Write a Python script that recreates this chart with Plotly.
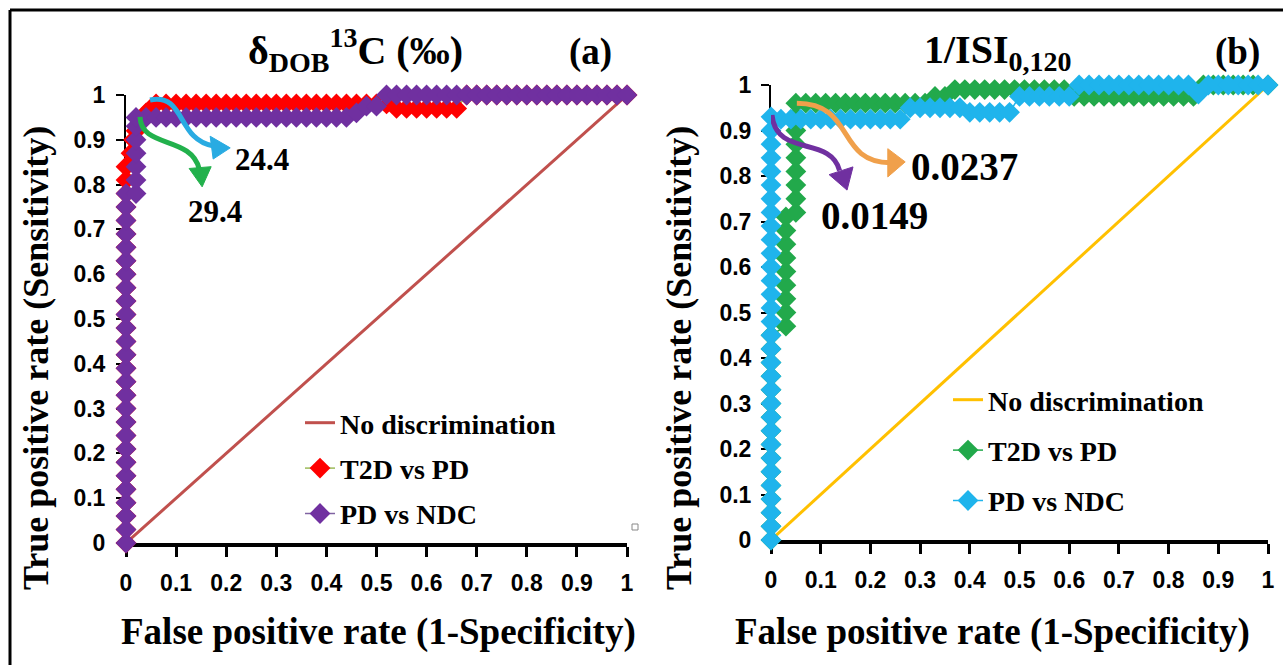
import plotly.graph_objects as go

# ---------------- data ----------------
tick_vals = [0, 0.1, 0.2, 0.3, 0.4, 0.5, 0.6, 0.7, 0.8, 0.9, 1]
tick_text = ["0", "0.1", "0.2", "0.3", "0.4", "0.5", "0.6", "0.7", "0.8", "0.9", "1"]

diag_x = [0, 1]
diag_y = [0, 1]

# Panel (a) delta_DOB 13C : T2D vs PD
a_t2d_x = [0]*29 + [0.01, 0.015, 0.02, 0.03, 0.04, 0.05, 0.06,
           0.08, 0.10, 0.12, 0.14, 0.16, 0.18, 0.20, 0.22, 0.24, 0.26, 0.28, 0.30,
           0.32, 0.34, 0.36, 0.38, 0.40, 0.42, 0.44, 0.46, 0.48, 0.50, 0.52,
           0.54, 0.56, 0.58, 0.60, 0.62, 0.64, 0.66,
           0.68, 0.70, 0.72, 0.74, 0.76, 0.78, 0.80, 0.82, 0.84, 0.86, 0.88, 0.90,
           0.92, 0.94, 0.96, 0.98, 1.0]
a_t2d_y = [0, 0.03, 0.06, 0.09, 0.12, 0.15, 0.18, 0.21, 0.24, 0.27, 0.30, 0.33, 0.36,
           0.39, 0.42, 0.45, 0.48, 0.51, 0.54, 0.57, 0.60, 0.63, 0.66, 0.69, 0.72,
           0.75, 0.78, 0.81, 0.84,
           0.87, 0.90, 0.92, 0.94, 0.96, 0.97, 0.98,
           0.98, 0.98, 0.98, 0.98, 0.98, 0.98, 0.98, 0.98, 0.98, 0.98, 0.98, 0.98,
           0.98, 0.98, 0.98, 0.98, 0.98, 0.98, 0.98, 0.98, 0.98, 0.98, 0.98,
           0.97, 0.97, 0.97, 0.97, 0.97, 0.97, 0.97,
           1, 1, 1, 1, 1, 1, 1, 1, 1, 1, 1, 1, 1, 1, 1, 1, 1]

# Panel (a) : PD vs NDC
a_pd_x = [0]*27 + [0.02]*7 + [0.04, 0.06, 0.08, 0.10, 0.12, 0.14, 0.16, 0.18, 0.20,
          0.22, 0.24, 0.26, 0.28, 0.30, 0.32, 0.34, 0.36, 0.38, 0.40, 0.42, 0.44,
          0.46, 0.48, 0.50,
          0.52, 0.54, 0.56, 0.58, 0.60, 0.62, 0.64, 0.66, 0.68, 0.70, 0.72, 0.74,
          0.76, 0.78, 0.80, 0.82, 0.84, 0.86, 0.88, 0.90, 0.92, 0.94, 0.96, 0.98, 1.0]
a_pd_y = [0, 0.03, 0.06, 0.09, 0.12, 0.15, 0.18, 0.21, 0.24, 0.27, 0.30, 0.33, 0.36,
          0.39, 0.42, 0.45, 0.48, 0.51, 0.54, 0.57, 0.60, 0.63, 0.66, 0.69, 0.72,
          0.75, 0.78,
          0.78, 0.81, 0.84, 0.87, 0.90, 0.93, 0.95,
          0.95, 0.95, 0.95, 0.95, 0.95, 0.95, 0.95, 0.95, 0.95, 0.95, 0.95, 0.95,
          0.95, 0.95, 0.95, 0.95, 0.95, 0.95, 0.95, 0.95, 0.95,
          0.96, 0.975, 0.975,
          1, 1, 1, 1, 1, 1, 1, 1, 1, 1, 1, 1, 1, 1, 1, 1, 1, 1, 1, 1, 1, 1, 1, 1, 1]

# Panel (b) 1/ISI0,120 : T2D vs PD
b_t2d_x = [0]*16 + [0.03]*9 + [0.05]*9 + [0.07, 0.09, 0.11, 0.13, 0.15, 0.17, 0.19,
           0.21, 0.23, 0.25, 0.27, 0.29, 0.31,
           0.33, 0.35,
           0.37, 0.39, 0.41, 0.43, 0.45, 0.47, 0.49, 0.51, 0.53, 0.55, 0.57, 0.59,
           0.61, 0.63, 0.65, 0.67, 0.69, 0.71, 0.73, 0.75, 0.77, 0.79, 0.81, 0.83, 0.85,
           0.87, 0.89, 0.91, 0.93, 0.95, 0.97, 1.0]
b_t2d_y = [0, 0.03, 0.06, 0.09, 0.12, 0.15, 0.18, 0.21, 0.24, 0.27, 0.30, 0.33, 0.36,
           0.39, 0.42, 0.45,
           0.47, 0.50, 0.53, 0.56, 0.59, 0.62, 0.65, 0.68, 0.71,
           0.72, 0.75, 0.78, 0.81, 0.84, 0.87, 0.90, 0.93, 0.96,
           0.96, 0.96, 0.96, 0.96, 0.96, 0.96, 0.96, 0.96, 0.96, 0.96, 0.96, 0.96, 0.96,
           0.975, 0.975,
           0.99, 0.99, 0.99, 0.99, 0.99, 0.99, 0.99, 0.99, 0.99, 0.99, 0.99, 0.99,
           0.975, 0.975, 0.975, 0.975, 0.975, 0.975, 0.975, 0.975, 0.975, 0.975,
           0.975, 0.975, 0.975,
           1, 1, 1, 1, 1, 1, 1]

# Panel (b) : PD vs NDC
b_pd_x = [0]*32 + [0.02, 0.04, 0.06, 0.08, 0.10, 0.12, 0.14, 0.16, 0.18, 0.20,
          0.22, 0.24, 0.26,
          0.28, 0.30, 0.32, 0.34, 0.36, 0.38, 0.40, 0.42, 0.44, 0.46, 0.48,
          0.50, 0.52, 0.54, 0.56, 0.58, 0.60,
          0.62, 0.64, 0.66, 0.68, 0.70, 0.72, 0.74, 0.76, 0.78, 0.80, 0.82, 0.84,
          0.86,
          0.88, 0.90, 0.92, 0.94, 0.96, 0.98, 1.0]
b_pd_y = [0, 0.03, 0.06, 0.09, 0.12, 0.15, 0.18, 0.21, 0.24, 0.27, 0.30, 0.33, 0.36,
          0.39, 0.42, 0.45, 0.48, 0.51, 0.54, 0.57, 0.60, 0.63, 0.66, 0.69, 0.72,
          0.75, 0.78, 0.81, 0.84, 0.87, 0.90, 0.93,
          0.925, 0.925, 0.925, 0.925, 0.925, 0.925, 0.925, 0.925, 0.925, 0.925,
          0.925, 0.925, 0.925,
          0.95, 0.95, 0.95, 0.95, 0.95, 0.95, 0.94, 0.94, 0.94, 0.94, 0.94,
          0.975, 0.975, 0.975, 0.975, 0.975, 0.975,
          1, 1, 1, 1, 1, 1, 1, 1, 1, 1, 1, 1,
          0.98,
          1, 1, 1, 1, 1, 1, 1]

# ---------------- styling ----------------
W, H = 1283, 665
SERIF = "Times New Roman, Liberation Serif, serif"
SANS = "Liberation Sans Narrow, Arial Narrow, Arial, Liberation Sans, sans-serif"
MS = 16

fig = go.Figure()

def add_panel(xa, ya, leg, diag_color, c1, l1, c2, l2, x1, y1, x2, y2):
    fig.add_trace(go.Scatter(x=diag_x, y=diag_y, mode="lines", name="No discrimination",
                             line=dict(color=diag_color, width=3), xaxis=xa, yaxis=ya,
                             legend=leg, legendgroup=leg + "a"))
    fig.add_trace(go.Scatter(x=x1, y=y1, mode="lines+markers", name="T2D vs PD",
                             line=dict(color=l1, width=1.5),
                             marker=dict(symbol="diamond", size=MS, color=c1),
                             cliponaxis=False, xaxis=xa, yaxis=ya,
                             legend=leg, legendgroup=leg + "b"))
    fig.add_trace(go.Scatter(x=x2, y=y2, mode="lines+markers", name="PD vs NDC",
                             line=dict(color=l2, width=1.5),
                             marker=dict(symbol="diamond", size=MS, color=c2),
                             cliponaxis=False, xaxis=xa, yaxis=ya,
                             legend=leg, legendgroup=leg + "c"))

add_panel("x", "y", "legend", "#C0504D", "#FF0000", "#9BBB59", "#7030A0", "#8064A2",
          a_t2d_x, a_t2d_y, a_pd_x, a_pd_y)
add_panel("x2", "y2", "legend2", "#FFC000", "#22A94B", "#22A94B", "#1FB4EC", "#1FB4EC",
          b_t2d_x, b_t2d_y, b_pd_x, b_pd_y)

tickfont = dict(family=SANS, size=23, color="black", weight="bold")

def xax(domain, anchor):
    return dict(domain=domain, anchor=anchor, range=[0, 1], tickvals=tick_vals,
                ticktext=tick_text, showline=True, linewidth=4, linecolor="black",
                ticks="outside", ticklen=10, tickwidth=3, tickcolor="black",
                tickfont=tickfont, ticklabelstandoff=6, showgrid=False,
                zeroline=False, layer="below traces", fixedrange=True, automargin=False)

def yax(domain, anchor, standoff):
    return dict(domain=domain, anchor=anchor, range=[0, 1], tickvals=tick_vals,
                ticktext=tick_text, showline=True, linewidth=2, linecolor="black",
                ticks="outside", ticklen=8, tickwidth=2, tickcolor="black",
                tickfont=tickfont, ticklabelstandoff=standoff, showgrid=False,
                zeroline=False, layer="below traces", fixedrange=True, automargin=False)

legfont = dict(family=SERIF, size=28, color="black", weight="bold")

fig.update_layout(
    width=W, height=H, margin=dict(l=0, r=0, t=0, b=0, pad=0, autoexpand=False),
    paper_bgcolor="white", plot_bgcolor="white", showlegend=True,
    xaxis=xax([126 / W, 627 / W], "y"),
    yaxis=yax([1 - 543 / H, 1 - 95 / H], "x", 6),
    xaxis2=xax([771 / W, 1268 / W], "y2"),
    yaxis2=yax([1 - 540 / H, 1 - 85 / H], "x2", 5),
    legend=dict(x=300 / W, y=1 - 398 / H, xanchor="left", yanchor="top",
                bgcolor="rgba(0,0,0,0)", font=legfont, tracegroupgap=6,
                traceorder="grouped"),
    legend2=dict(x=948 / W, y=1 - 375 / H, xanchor="left", yanchor="top",
                 bgcolor="rgba(0,0,0,0)", font=legfont, tracegroupgap=11,
                 traceorder="grouped"),
)

titlefont = dict(family=SERIF, size=37, color="black", weight="bold")
ytitlefont = dict(family=SERIF, size=36, color="black", weight="bold")
annos = [
    dict(text="True positive rate (Sensitivity)", x=36 / W, y=1 - 358 / H, textangle=-90,
         font=ytitlefont),
    dict(text="True positive rate (Sensitivity)", x=679 / W, y=1 - 358 / H, textangle=-90,
         font=ytitlefont),
    dict(text="False positive rate (1-Specificity)", x=378 / W, y=1 - 632 / H, font=titlefont),
    dict(text="False positive rate (1-Specificity)", x=992 / W, y=1 - 632 / H, font=titlefont),
    dict(text="δ<sub>DOB</sub><sup>13</sup>C (‰)", x=355 / W, y=1 - 50 / H,
         font=dict(family=SERIF, size=40, color="black", weight="bold")),
    dict(text="(a)", x=590 / W, y=1 - 52 / H, font=titlefont),
    dict(text="1/ISI<sub>0,120</sub>", x=998 / W, y=1 - 52 / H,
         font=dict(family=SERIF, size=40, color="black", weight="bold")),
    dict(text="(b)", x=1237 / W, y=1 - 52 / H, font=titlefont),
]
for a in annos:
    fig.add_annotation(xref="paper", yref="paper", showarrow=False, xanchor="center",
                       yanchor="middle", **a)

for txt, x, y, xr, yr, fs in [("24.4", 0.271, 0.855, "x", "y", 31),
                               ("29.4", 0.178, 0.739, "x", "y", 31),
                               ("0.0237", 0.39, 0.82, "x2", "y2", 39),
                               ("0.0149", 0.209, 0.714, "x2", "y2", 39)]:
    fig.add_annotation(text=txt, x=x, y=y, xref=xr, yref=yr, showarrow=False,
                       font=dict(family=SERIF, size=fs, color="black", weight="bold"),
                       xanchor="center", yanchor="middle")

# curved arrows (annotation decorations)
arrows = [
    ("x", "y", "#29ABE2", "M 0.048,0.989 C 0.12,1.005 0.10,0.90 0.175,0.886",
     "M 0.208,0.882 L 0.168,0.908 L 0.174,0.857 Z"),
    ("x", "y", "#22B14C", "M 0.028,0.951 C 0.03,0.88 0.13,0.91 0.146,0.835",
     "M 0.152,0.795 L 0.126,0.836 L 0.170,0.840 Z"),
    ("x2", "y2", "#F0A04B", "M 0.052,0.960 C 0.17,0.96 0.13,0.83 0.24,0.829",
     "M 0.27,0.831 L 0.235,0.860 L 0.235,0.798 Z"),
    ("x2", "y2", "#7030A0", "M 0.002,0.934 C 0.01,0.84 0.12,0.89 0.138,0.812",
     "M 0.153,0.769 L 0.117,0.803 L 0.165,0.820 Z"),
]
for xr, yr, col, body, head in arrows:
    fig.add_shape(type="path", path=body, xref=xr, yref=yr,
                  line=dict(color=col, width=5), fillcolor="rgba(0,0,0,0)")
    fig.add_shape(type="path", path=head, xref=xr, yref=yr,
                  line=dict(color=col, width=1), fillcolor=col)

# outer frame (top and left edges)
fig.add_shape(type="line", xref="paper", yref="paper", x0=10 / W, x1=1, y0=1 - 10 / H,
              y1=1 - 10 / H, line=dict(color="black", width=3))
fig.add_shape(type="line", xref="paper", yref="paper", x0=10 / W, x1=10 / W, y0=0,
              y1=1 - 10 / H, line=dict(color="black", width=3))
# small leftover handle square seen in panel (a)
fig.add_shape(type="rect", xref="paper", yref="paper", x0=632 / W, x1=638 / W,
              y0=1 - 530 / H, y1=1 - 524 / H, line=dict(color="#888888", width=1))

fig.write_html("out.html", config={"displayModeBar": False},
               post_script="document.body.style.margin='0px';"
                           "document.body.style.overflow='hidden';")
